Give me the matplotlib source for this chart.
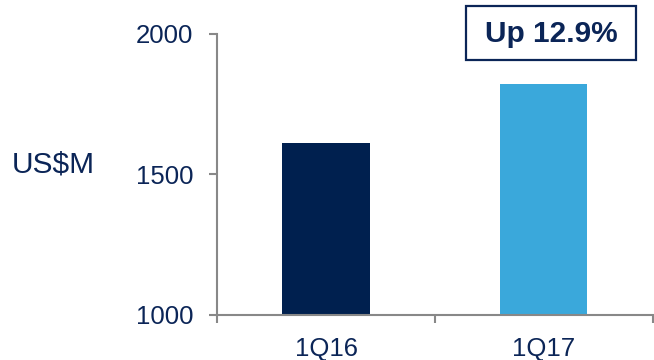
import matplotlib.pyplot as plt
from matplotlib.patches import Rectangle

plt.rcParams['font.family'] = ['Liberation Sans', 'DejaVu Sans']

# data
quarters = ['1Q16', '1Q17']
revenue = [1612, 1820]
bar_colors = ['#00204f', '#3aa8db']
yticks = [1000, 1500, 2000]
note = 'Up 12.9%'

text_col = '#0b2557'
axis_col = '#888888'

fig = plt.figure(figsize=(6.54, 3.60), dpi=100)
ax = fig.add_axes([0.332, 0.125, 0.666, 0.781])

x = range(len(quarters))
ax.bar(x, revenue, width=0.40, color=bar_colors, zorder=2)

ax.set_xlim(-0.5, len(quarters) - 0.5)
ax.set_ylim(yticks[0], yticks[-1])
ax.set_yticks(yticks)
ax.set_xticks(list(x))
ax.set_xticklabels(quarters)
ax.set_xticks([i - 0.5 for i in range(len(quarters) + 1)], minor=True)

for s in ['top', 'right']:
    ax.spines[s].set_visible(False)
for s in ['left', 'bottom']:
    ax.spines[s].set_color(axis_col)
    ax.spines[s].set_linewidth(1.5)

ax.tick_params(axis='y', direction='out', length=6, width=1.5, color=axis_col,
               labelsize=18.5, labelcolor=text_col, pad=11)
ax.tick_params(axis='x', which='major', length=0, labelsize=18.5,
               labelcolor=text_col, pad=16)
ax.tick_params(axis='x', which='minor', direction='out', length=6, width=1.5,
               color=axis_col)

fig.text(0.018, 0.542, 'US$M', fontsize=21.5, color=text_col, ha='left', va='center')

# callout box
fig.add_artist(Rectangle((466 / 654, 1 - 60 / 360), 170 / 654, 54 / 360,
                         transform=fig.transFigure, fill=False,
                         edgecolor='#0b2557', linewidth=1.6))
fig.text(551 / 654, 1 - 34 / 360, note, fontsize=21.5, fontweight='bold',
         color=text_col, ha='center', va='center')

fig.savefig('out.png', dpi=100)
